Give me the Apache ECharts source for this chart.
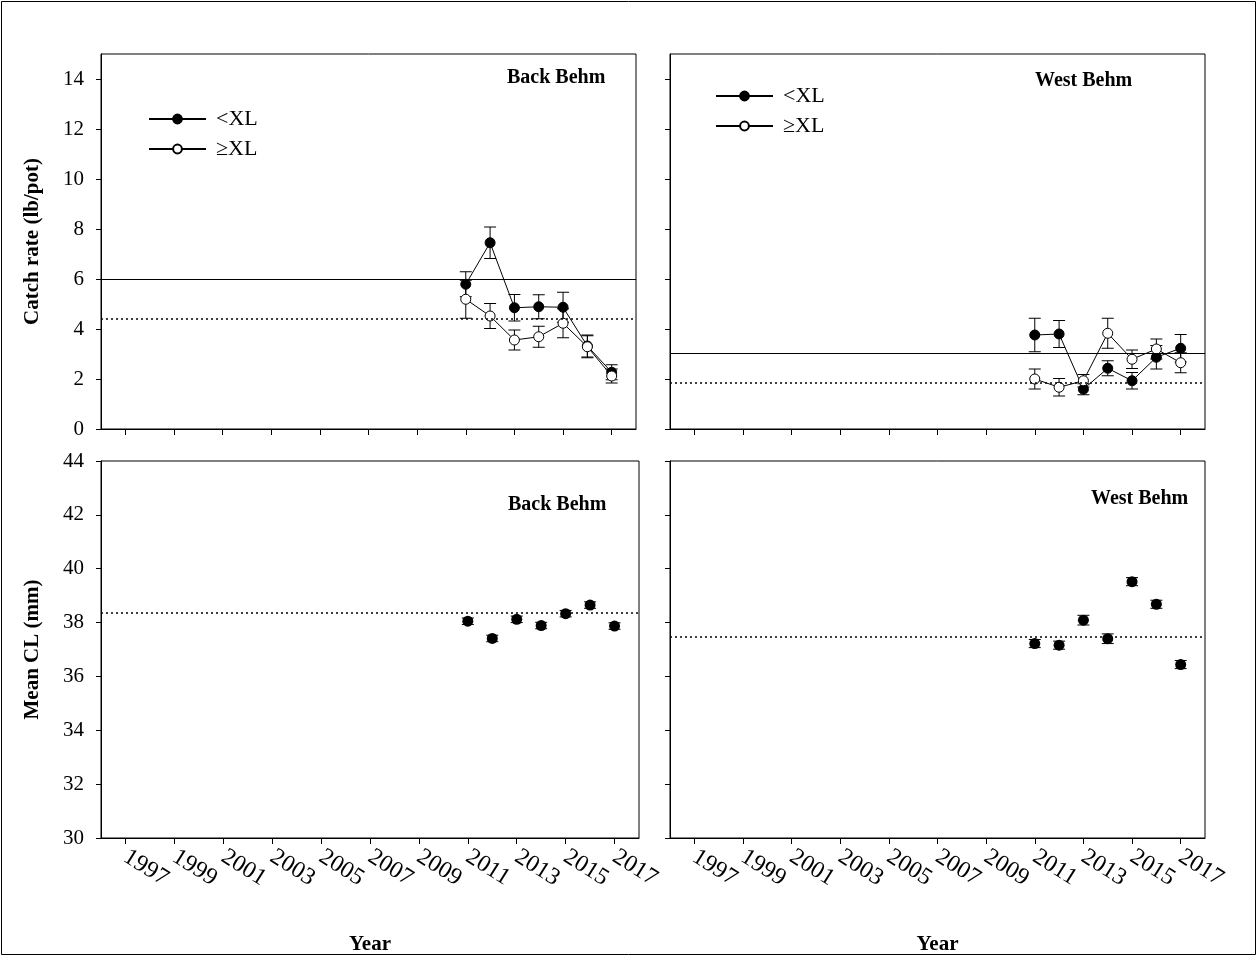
<!DOCTYPE html>
<html>
<head>
<meta charset="utf-8">
<script src="https://cdn.jsdelivr.net/npm/echarts@6/dist/echarts.min.js"></script>
<style>
  html, body { margin: 0; padding: 0; background: #fff; }
  #chart { width: 1257px; height: 957px; }
</style>
</head>
<body>
<div id="chart"></div>
<script>
// survey years and tick labels
const years = [2011, 2012, 2013, 2014, 2015, 2016, 2017]
const tickYears = [1997, 1999, 2001, 2003, 2005, 2007, 2009, 2011, 2013, 2015, 2017]
const catchTicks = [0, 2, 4, 6, 8, 10, 12, 14]
const clTicks = [30, 32, 34, 36, 38, 40, 42, 44]

// Back Behm catch rate (lb/pot)
const bbSmall = [5.79, 7.45, 4.85, 4.89, 4.87, 3.32, 2.27]
const bbSmallSe = [0.50, 0.63, 0.53, 0.48, 0.60, 0.44, 0.30]
const bbLarge = [5.19, 4.52, 3.56, 3.69, 4.23, 3.29, 2.12]
const bbLargeSe = [0.76, 0.50, 0.40, 0.42, 0.58, 0.44, 0.28]
const bbCatchRef = [6.0, 4.41]   // solid, dotted

// West Behm catch rate (lb/pot)
const wbSmall = [3.76, 3.80, 1.59, 2.43, 1.93, 2.87, 3.23]
const wbSmallSe = [0.67, 0.54, 0.22, 0.30, 0.33, 0.47, 0.55]
const wbLarge = [2.00, 1.67, 1.93, 3.83, 2.79, 3.20, 2.65]
const wbLargeSe = [0.40, 0.35, 0.25, 0.60, 0.37, 0.40, 0.40]
const wbCatchRef = [3.05, 1.87]

// mean carapace length (mm)
const bbCL = [38.05, 37.41, 38.12, 37.89, 38.33, 38.65, 37.87]
const bbCLSe = [0.12, 0.12, 0.12, 0.12, 0.12, 0.12, 0.12]
const bbCLRef = 38.35
const wbCL = [37.22, 37.16, 38.09, 37.40, 39.52, 38.68, 36.44]
const wbCLSe = [0.15, 0.15, 0.18, 0.18, 0.15, 0.15, 0.15]
const wbCLRef = 37.49

const FONT = 'Liberation Serif'
const chart = echarts.init(document.getElementById('chart'))

function pairs(vals) {
  return years.map((y, i) => [y, vals[i]])
}
function errData(vals, se) {
  return years.map((y, i) => [y, vals[i], se[i]])
}

function errBars(idx, vals, se) {
  return {
    type: 'custom',
    xAxisIndex: idx,
    yAxisIndex: idx,
    encode: { x: 0, y: 1 },
    silent: true,
    z: 1,
    data: errData(vals, se),
    renderItem: function (params, api) {
      const x = api.value(0), y = api.value(1), e = api.value(2)
      const hi = api.coord([x, y + e])
      const lo = api.coord([x, y - e])
      const half = 6
      const st = { stroke: '#000', lineWidth: 1 }
      return {
        type: 'group',
        children: [
          { type: 'line', shape: { x1: hi[0], y1: hi[1], x2: lo[0], y2: lo[1] }, style: st },
          { type: 'line', shape: { x1: hi[0] - half, y1: hi[1], x2: hi[0] + half, y2: hi[1] }, style: st },
          { type: 'line', shape: { x1: lo[0] - half, y1: lo[1], x2: lo[0] + half, y2: lo[1] }, style: st }
        ]
      }
    }
  }
}

function refLines(values, types) {
  return {
    silent: true,
    symbol: 'none',
    label: { show: false },
    animation: false,
    data: values.map((v, i) => ({
      yAxis: v,
      lineStyle: types[i] === 'dotted'
        ? { color: '#000', width: 1.6, type: [2, 3] }
        : { color: '#000', width: 1.2, type: 'solid' }
    }))
  }
}

function lineSeries(idx, name, vals, filled, mark) {
  const s = {
    type: 'line',
    name: name,
    xAxisIndex: idx,
    yAxisIndex: idx,
    data: pairs(vals),
    symbol: 'circle',
    symbolSize: 10,
    z: filled ? 3 : 4,
    lineStyle: { color: '#000', width: 1 },
    itemStyle: { color: filled ? '#000' : '#fff', borderColor: '#000', borderWidth: 1 }
  }
  if (mark) s.markLine = mark
  return s
}

function xAxis(idx, showLabels) {
  return {
    type: 'value',
    gridIndex: idx,
    min: 1996,
    max: 2018,
    splitLine: { show: false },
    axisLine: { lineStyle: { color: '#000', width: 1 } },
    axisTick: { customValues: tickYears, length: 6, lineStyle: { color: '#000' } },
    axisLabel: {
      show: showLabels,
      customValues: tickYears,
      rotate: -32,
      margin: 17,
      color: '#000',
      fontFamily: FONT,
      fontSize: 24,
      formatter: v => String(v)
    },
    name: showLabels ? 'Year' : '',
    nameLocation: 'middle',
    nameGap: 96,
    nameTextStyle: { fontFamily: FONT, fontWeight: 'bold', fontSize: 21, color: '#000' }
  }
}

function yAxis(idx, min, max, ticks, showLabels, name) {
  return {
    type: 'value',
    gridIndex: idx,
    min: min,
    max: max,
    splitLine: { show: false },
    axisLine: { show: true, lineStyle: { color: '#000', width: 1 } },
    axisTick: { show: true, customValues: ticks, length: 5, lineStyle: { color: '#000' } },
    axisLabel: {
      show: showLabels,
      customValues: ticks,
      margin: 17,
      color: '#000',
      fontFamily: FONT,
      fontSize: 21
    },
    name: name || '',
    nameLocation: 'middle',
    nameGap: 58,
    nameTextStyle: { fontFamily: FONT, fontWeight: 'bold', fontSize: 21, color: '#000' }
  }
}

const titleStyle = { fontFamily: FONT, fontWeight: 'bold', fontSize: 20, color: '#000' }
const legendBase = {
  orient: 'vertical',
  data: ['<XL', '≥XL'],
  padding: 0,
  itemWidth: 57,
  itemHeight: 11,
  itemGap: 8,
  selectedMode: false,
  textStyle: { fontFamily: FONT, fontSize: 22, color: '#000', padding: [0, 0, 0, 5] }
}

chart.setOption({
  animation: false,
  backgroundColor: '#fff',
  graphic: [{
    type: 'rect',
    shape: { x: 1.5, y: 1.5, width: 1254, height: 953 },
    style: { fill: 'none', stroke: '#000', lineWidth: 1 },
    silent: true
  }],
  title: [
    { text: 'Back Behm', left: 502, top: 63, textStyle: titleStyle },
    { text: 'West Behm', left: 1030, top: 66, textStyle: titleStyle },
    { text: 'Back Behm', left: 503, top: 490, textStyle: titleStyle },
    { text: 'West Behm', left: 1086, top: 484, textStyle: titleStyle }
  ],
  legend: [
    Object.assign({}, legendBase, { left: 148, top: 108 }),
    Object.assign({}, legendBase, { left: 715, top: 85 })
  ],
  grid: [
    { left: 101, top: 54, width: 535, height: 375, show: true, borderColor: '#000', borderWidth: 1 },
    { left: 670, top: 54, width: 535, height: 375, show: true, borderColor: '#000', borderWidth: 1 },
    { left: 101, top: 461, width: 538, height: 377, show: true, borderColor: '#000', borderWidth: 1 },
    { left: 670, top: 461, width: 535, height: 377, show: true, borderColor: '#000', borderWidth: 1 }
  ],
  xAxis: [xAxis(0, false), xAxis(1, false), xAxis(2, true), xAxis(3, true)],
  yAxis: [
    yAxis(0, 0, 15, catchTicks, true, 'Catch rate (lb/pot)'),
    yAxis(1, 0, 15, catchTicks, false),
    yAxis(2, 30, 44, clTicks, true, 'Mean CL (mm)'),
    yAxis(3, 30, 44, clTicks, false)
  ],
  series: [
    errBars(0, bbSmall, bbSmallSe),
    errBars(0, bbLarge, bbLargeSe),
    lineSeries(0, '<XL', bbSmall, true, refLines(bbCatchRef, ['solid', 'dotted'])),
    lineSeries(0, '≥XL', bbLarge, false),

    errBars(1, wbSmall, wbSmallSe),
    errBars(1, wbLarge, wbLargeSe),
    lineSeries(1, '<XL', wbSmall, true, refLines(wbCatchRef, ['solid', 'dotted'])),
    lineSeries(1, '≥XL', wbLarge, false),

    errBars(2, bbCL, bbCLSe),
    {
      type: 'scatter', name: 'CL Back', xAxisIndex: 2, yAxisIndex: 2,
      data: pairs(bbCL), symbol: 'circle', symbolSize: 11, z: 3,
      itemStyle: { color: '#000', opacity: 1 },
      markLine: refLines([bbCLRef], ['dotted'])
    },
    errBars(3, wbCL, wbCLSe),
    {
      type: 'scatter', name: 'CL West', xAxisIndex: 3, yAxisIndex: 3,
      data: pairs(wbCL), symbol: 'circle', symbolSize: 11, z: 3,
      itemStyle: { color: '#000', opacity: 1 },
      markLine: refLines([wbCLRef], ['dotted'])
    }
  ]
})
</script>
</body>
</html>
